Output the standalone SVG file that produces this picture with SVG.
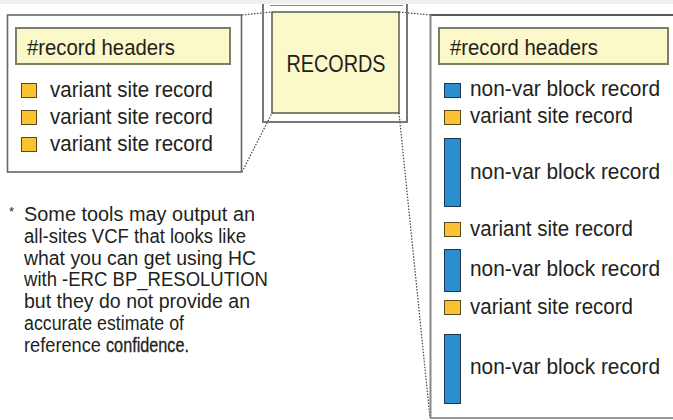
<svg xmlns="http://www.w3.org/2000/svg" width="673" height="420" viewBox="0 0 673 420">
<style>
text{font-family:"Liberation Sans",Arial,sans-serif;fill:#231f20}
.t{font-size:21.5px}
.fn{font-size:19.5px}
.hdr{fill:#fbf8c9;stroke:#7f7c68;stroke-width:2}
.y{fill:#f9c22f;stroke:#5a4a1c;stroke-width:1}
.b{fill:#2b8ecf;stroke:#1c3550;stroke-width:1}
.dot{stroke:#444;stroke-width:1.2;stroke-dasharray:1.5 1.5;fill:none}
.frame{stroke:#777;stroke-width:2;fill:none}
</style>
<rect x="0" y="0" width="673" height="420" fill="#fff"/>
<rect x="0" y="0" width="673" height="4" fill="#efefef"/>

<g id="connectors">
<line class="dot" x1="242" y1="15" x2="272" y2="12"/>
<line class="dot" x1="242" y1="172" x2="272" y2="113"/>
<line class="dot" x1="399" y1="12" x2="430" y2="15"/>
<line class="dot" x1="399" y1="113" x2="430" y2="418"/>
</g>

<g id="left-vcf">
<rect x="7.5" y="15" width="234" height="157" fill="#fff" stroke="#666" stroke-width="1.6"/>
<rect class="hdr" x="16" y="28" width="214" height="36"/>
<text class="t" x="27" y="55" textLength="148" lengthAdjust="spacingAndGlyphs">#record headers</text>
<rect class="y" x="21.5" y="83.5" width="15" height="14"/>
<text class="t" x="50" y="97" textLength="163" lengthAdjust="spacingAndGlyphs">variant site record</text>
<rect class="y" x="21.5" y="110.5" width="15" height="14"/>
<text class="t" x="50" y="124" textLength="163" lengthAdjust="spacingAndGlyphs">variant site record</text>
<rect class="y" x="21.5" y="137.5" width="15" height="14"/>
<text class="t" x="50" y="151" textLength="163" lengthAdjust="spacingAndGlyphs">variant site record</text>
</g>

<g id="records">
<path class="frame" d="M263 4 V122 H407 V4"/>
<line x1="270" y1="5.5" x2="403" y2="5.5" stroke="#888" stroke-width="1.2"/>
<rect x="272" y="12" width="127" height="101" fill="#fbf8c9" stroke="#333" stroke-width="1.2"/>
<text x="336" y="72" font-size="24" text-anchor="middle" textLength="99" lengthAdjust="spacingAndGlyphs">RECORDS</text>
</g>

<g id="right-vcf">
<rect x="430" y="15" width="260" height="403" fill="#fff" stroke="none"/>
<line x1="430" y1="15" x2="673" y2="15" stroke="#222" stroke-width="1.4"/>
<line x1="430" y1="418" x2="673" y2="418" stroke="#777" stroke-width="1.6"/>
<line x1="430.5" y1="15" x2="430.5" y2="418" stroke="#888" stroke-width="2"/>
<rect class="hdr" x="439" y="28" width="229" height="36"/>
<text class="t" x="450" y="55" textLength="148" lengthAdjust="spacingAndGlyphs">#record headers</text>
<rect class="b" x="444.5" y="83.5" width="16" height="14"/>
<text class="t" x="470" y="96" textLength="190" lengthAdjust="spacingAndGlyphs">non-var block record</text>
<rect class="y" x="444.5" y="110.5" width="16" height="14"/>
<text class="t" x="470" y="123" textLength="163" lengthAdjust="spacingAndGlyphs">variant site record</text>
<rect class="b" x="444.5" y="138.5" width="16" height="68"/>
<text class="t" x="470" y="179" textLength="190" lengthAdjust="spacingAndGlyphs">non-var block record</text>
<rect class="y" x="444.5" y="222.5" width="16" height="14"/>
<text class="t" x="470" y="236" textLength="163" lengthAdjust="spacingAndGlyphs">variant site record</text>
<rect class="b" x="444.5" y="249.5" width="16" height="42"/>
<text class="t" x="470" y="276" textLength="190" lengthAdjust="spacingAndGlyphs">non-var block record</text>
<rect class="y" x="444.5" y="300.5" width="16" height="14"/>
<text class="t" x="470" y="314" textLength="163" lengthAdjust="spacingAndGlyphs">variant site record</text>
<rect class="b" x="444.5" y="334.5" width="16" height="69"/>
<text class="t" x="470" y="374" textLength="190" lengthAdjust="spacingAndGlyphs">non-var block record</text>
</g>

<g id="footnote">
<text x="9" y="216" font-size="13">*</text>
<text class="fn" x="24" y="221" textLength="231" lengthAdjust="spacingAndGlyphs">Some tools may output an</text>
<text class="fn" x="24" y="243" textLength="222" lengthAdjust="spacingAndGlyphs">all-sites VCF that looks like</text>
<text class="fn" x="24" y="265" textLength="232" lengthAdjust="spacingAndGlyphs">what you can get using HC</text>
<text class="fn" x="24" y="286" textLength="244" lengthAdjust="spacingAndGlyphs">with -ERC BP_RESOLUTION</text>
<text class="fn" x="24" y="308" textLength="226" lengthAdjust="spacingAndGlyphs">but they do not provide an</text>
<text class="fn" x="24" y="330" textLength="160" lengthAdjust="spacingAndGlyphs">accurate estimate of</text>
<text class="fn" x="24" y="352" textLength="77" lengthAdjust="spacingAndGlyphs">reference</text>
<text class="fn" x="106" y="352" textLength="83" lengthAdjust="spacingAndGlyphs" stroke="#231f20" stroke-width="0.3">confidence.</text>
</g>
</svg>
